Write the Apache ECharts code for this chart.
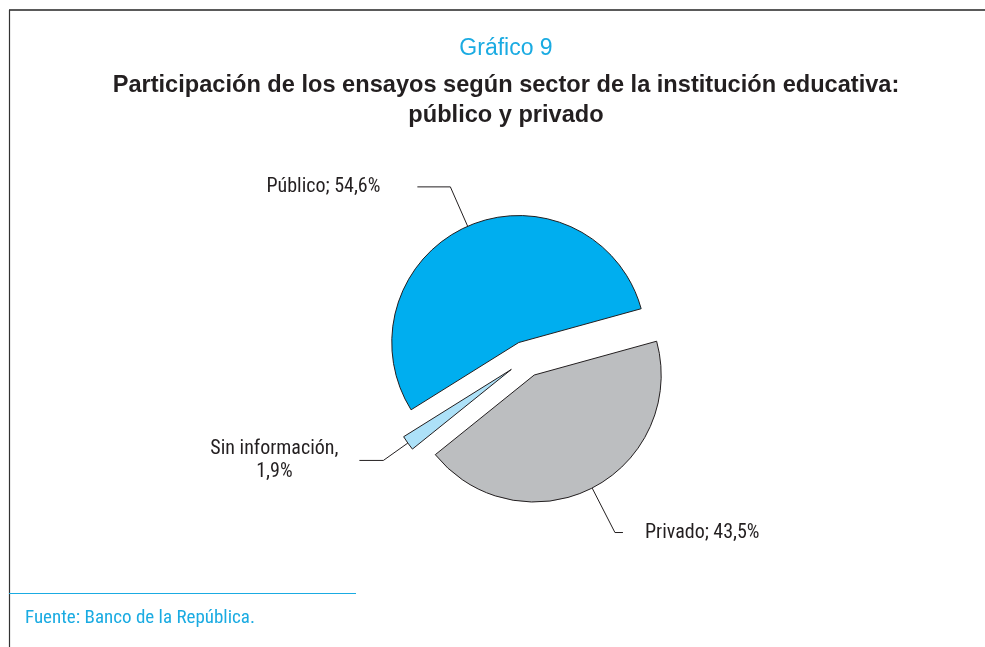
<!DOCTYPE html>
<html><head><meta charset="utf-8">
<script src="https://cdn.jsdelivr.net/npm/echarts@6/dist/echarts.min.js"></script>
<style>html,body{margin:0;padding:0;background:#fff}#c{width:985px;height:647px}</style>
</head><body><div id="c"></div>
<script>
// ---- data ----
const categories = ['Público', 'Privado', 'Sin información'];
const values = [54.6, 43.5, 1.9];
const labelTexts = ['Público; 54,6%', 'Privado; 43,5%', '{c|Sin información,}\n{c|1,9%}'];
const supTitle = 'Gráfico 9';
const mainTitle = 'Participación de los ensayos según sector de la institución educativa:\npúblico y privado';
const sourceText = 'Fuente: Banco de la República.';

// ---- styles ----
const colors = ['#00AEEF', '#BCBEC0', '#ADE1F8'];
const lineCfg = [
  { length: 43, length2: 33, dist: 37 },
  { length: 50, length2: 8, dist: 22 },
  { length: 30, length2: 24, dist: 20 }
];
const NARROW = "'Liberation Sans Narrow', 'Roboto Condensed', 'Liberation Sans', Arial, sans-serif";
const SANS = "'Liberation Sans', Arial, Helvetica, sans-serif";
const BLUE = '#1AABE2';

const chart = echarts.init(document.getElementById('c'), null, { renderer: 'canvas' });

const data = categories.map((name, i) => ({
  name: name,
  value: values[i],
  selected: true,
  itemStyle: { color: colors[i] },
  label: { formatter: labelTexts[i], distanceToLabelLine: lineCfg[i].dist },
  labelLine: { length: lineCfg[i].length, length2: lineCfg[i].length2 }
}));

chart.setOption({
  animation: false,
  backgroundColor: '#fff',
  graphic: [
    { type: 'line', shape: { x1: 9, y1: 10, x2: 985, y2: 10 }, style: { stroke: '#5a5a5a', lineWidth: 2 } },
    { type: 'line', shape: { x1: 9.5, y1: 10, x2: 9.5, y2: 647 }, style: { stroke: '#333', lineWidth: 1.2 } },
    { type: 'line', shape: { x1: 9, y1: 593.5, x2: 356, y2: 593.5 }, style: { stroke: BLUE, lineWidth: 1 } },
    { type: 'text', x: 506, y: 49,
      style: { text: supTitle, fill: BLUE, font: '23px ' + SANS, align: 'center', verticalAlign: 'middle' } },
    { type: 'text', x: 506, y: 100,
      style: { text: mainTitle, fill: '#231F20', font: 'bold 23.6px ' + SANS, lineHeight: 30, align: 'center', verticalAlign: 'middle' } },
    { type: 'text', left: 25, top: 609, style: { text: sourceText, fill: BLUE, font: '19px ' + NARROW } }
  ],
  series: [{
    type: 'pie',
    center: [526, 359],
    radius: 127,
    startAngle: 212,
    clockwise: true,
    selectedMode: 'multiple',
    selectedOffset: 18,
    avoidLabelOverlap: false,
    silent: true,
    itemStyle: { borderColor: '#231F20', borderWidth: 1, borderJoin: 'miter', borderMiterLimit: 20 },
    label: {
      show: true, position: 'outside', color: '#231F20', fontSize: 20, fontFamily: NARROW, lineHeight: 23,
      rich: { c: { width: 130, align: 'center', color: '#231F20', fontSize: 20, fontFamily: NARROW, lineHeight: 23 } }
    },
    labelLine: { show: true, lineStyle: { color: '#231F20', width: 1 } },
    emphasis: { disabled: true },
    data: data
  }]
});
</script></body></html>
